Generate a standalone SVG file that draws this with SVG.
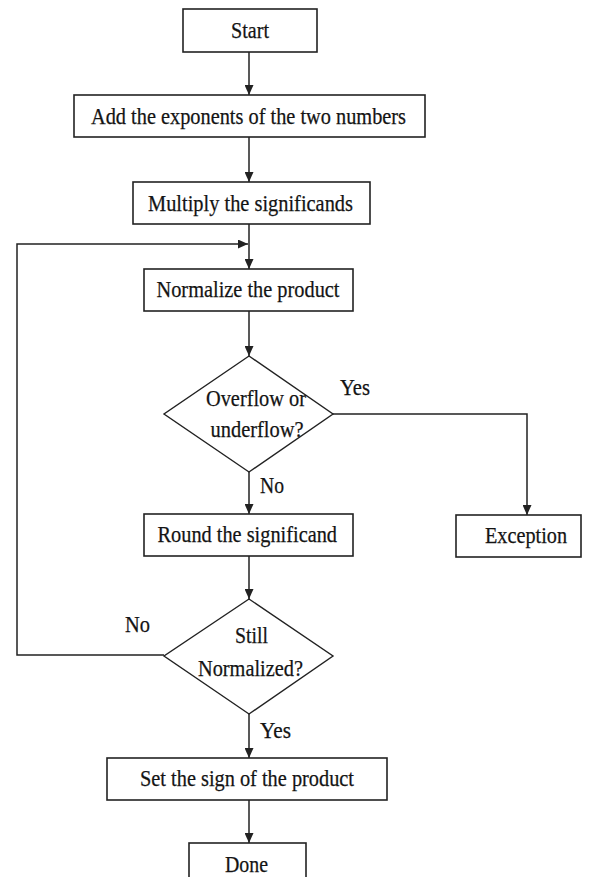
<svg xmlns="http://www.w3.org/2000/svg" width="594" height="877" viewBox="0 0 594 877">
<style>
.box{fill:#ffffff;stroke:#222222;stroke-width:1.6}
.dia{fill:#ffffff;stroke:#222222;stroke-width:1.4}
.ln{fill:none;stroke:#222222;stroke-width:1.5}
text{font-family:"Liberation Serif","Times New Roman",serif;font-size:23.5px;fill:#141414;stroke:#141414;stroke-width:0.25}
</style>
<defs>
<marker id="ah" markerUnits="userSpaceOnUse" markerWidth="10" markerHeight="9" refX="10" refY="4.5" orient="auto">
<path d="M0,0 L10,4.5 L0,9 z" fill="#222222"/>
</marker>
</defs>
<rect width="594" height="877" fill="#ffffff"/>
<g id="connectors">
<line class="ln" x1="249" y1="52" x2="249" y2="95" marker-end="url(#ah)"/>
<line class="ln" x1="249" y1="137" x2="249" y2="182" marker-end="url(#ah)"/>
<line class="ln" x1="249" y1="224" x2="249" y2="269" marker-end="url(#ah)"/>
<line class="ln" x1="249" y1="311" x2="249" y2="356" marker-end="url(#ah)"/>
<line class="ln" x1="249" y1="472" x2="249" y2="514" marker-end="url(#ah)"/>
<line class="ln" x1="249" y1="556" x2="249" y2="599" marker-end="url(#ah)"/>
<line class="ln" x1="249" y1="714" x2="249" y2="758" marker-end="url(#ah)"/>
<line class="ln" x1="249" y1="800" x2="249" y2="843" marker-end="url(#ah)"/>
<polyline class="ln" points="333,414 527,414 527,515" marker-end="url(#ah)"/>
<polyline class="ln" points="164,655 17,655 17,244 248,244" marker-end="url(#ah)"/>
<text x="340" y="395" textLength="30" lengthAdjust="spacingAndGlyphs">Yes</text>
<text x="260" y="493" textLength="24" lengthAdjust="spacingAndGlyphs">No</text>
<text x="125" y="632" textLength="25" lengthAdjust="spacingAndGlyphs">No</text>
<text x="260" y="738" textLength="31" lengthAdjust="spacingAndGlyphs">Yes</text>
</g>
<g id="start">
<rect class="box" x="183" y="9" width="134" height="43"/>
<text x="231" y="38" textLength="38" lengthAdjust="spacingAndGlyphs">Start</text>
</g>
<g id="add-exponents">
<rect class="box" x="74" y="95" width="351" height="42"/>
<text x="91" y="124" textLength="315" lengthAdjust="spacingAndGlyphs">Add the exponents of the two numbers</text>
</g>
<g id="multiply">
<rect class="box" x="133" y="182" width="237" height="42"/>
<text x="148" y="211" textLength="205" lengthAdjust="spacingAndGlyphs">Multiply the significands</text>
</g>
<g id="normalize">
<rect class="box" x="144" y="269" width="209" height="42"/>
<text x="156.5" y="297" textLength="183" lengthAdjust="spacingAndGlyphs">Normalize the product</text>
</g>
<g id="overflow">
<polygon class="dia" points="249,356 333,414 249,472 164,414"/>
<text x="206" y="406" textLength="100" lengthAdjust="spacingAndGlyphs">Overflow or</text>
<text x="210.5" y="437" textLength="93" lengthAdjust="spacingAndGlyphs">underflow?</text>
</g>
<g id="round">
<rect class="box" x="144" y="514" width="209" height="42"/>
<text x="157.5" y="542" textLength="179.5" lengthAdjust="spacingAndGlyphs">Round the significand</text>
</g>
<g id="exception">
<rect class="box" x="456" y="515" width="125" height="42"/>
<text x="485" y="543" textLength="82" lengthAdjust="spacingAndGlyphs">Exception</text>
</g>
<g id="still-normalized">
<polygon class="dia" points="249,599 333,656 249,714 164,656"/>
<text x="235" y="643" textLength="33" lengthAdjust="spacingAndGlyphs">Still</text>
<text x="198" y="676" textLength="105" lengthAdjust="spacingAndGlyphs">Normalized?</text>
</g>
<g id="set-sign">
<rect class="box" x="107" y="758" width="280" height="42"/>
<text x="140" y="786" textLength="214" lengthAdjust="spacingAndGlyphs">Set the sign of the product</text>
</g>
<g id="done">
<rect class="box" x="189" y="843" width="117" height="43"/>
<text x="225" y="872" textLength="43" lengthAdjust="spacingAndGlyphs">Done</text>
</g>
</svg>
